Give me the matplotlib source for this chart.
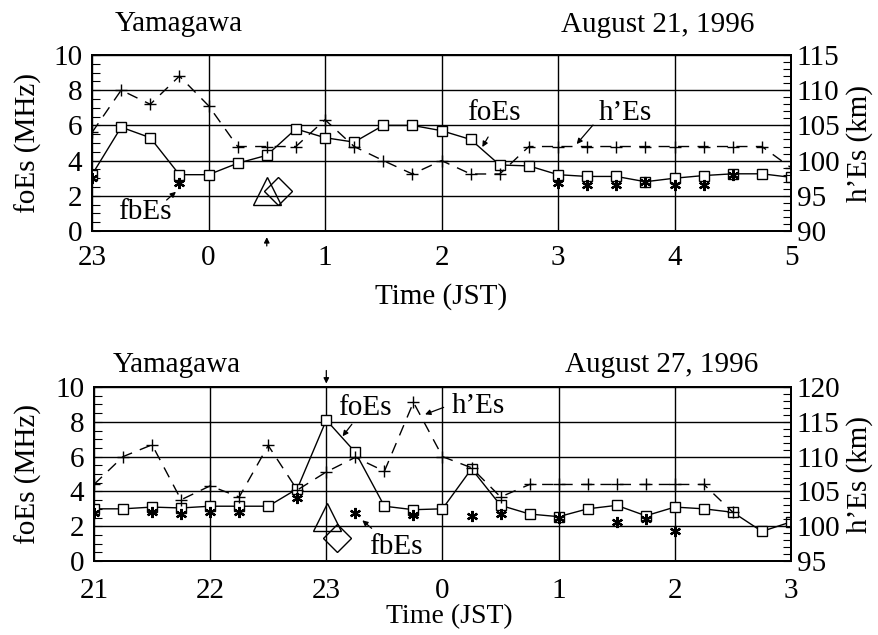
import matplotlib
matplotlib.use("Agg")
import matplotlib.pyplot as plt
from matplotlib.ticker import MultipleLocator

plt.rcParams['font.family'] = ['Liberation Serif', 'DejaVu Serif']
plt.rcParams['font.size'] = 21

# ---- August 21, 1996 (hours after 23 JST) ----
top_t = [0, 0.25, 0.5, 0.75, 1, 1.25, 1.5, 1.75, 2, 2.25, 2.5, 2.75, 3,
         3.25, 3.5, 3.75, 4, 4.25, 4.5, 4.75, 5, 5.25, 5.5, 5.75, 6]
top_foes = [3.2, 5.9, 5.3, 3.2, 3.2, 3.85, 4.3, 5.8, 5.3, 5.05, 6.0, 6.0, 5.7,
            5.2, 3.75, 3.7, 3.2, 3.1, 3.1, 2.8, 3.0, 3.15, 3.25, 3.25, 3.05]
top_hes = [104, 110, 108, 112, 107.8, 102, 102, 102, 105.8, 102, 100, 98.1, 100,
           98.1, 98.1, 102, 102, 102, 102, 102, 102, 102, 102, 102, 99]
top_fb_t = [0, 0.75, 4, 4.25, 4.5, 4.75, 5, 5.25, 5.5]
top_fbes = [3.0, 2.7, 2.7, 2.6, 2.6, 2.8, 2.6, 2.6, 3.2]
top_xlabels = ['23', '0', '1', '2', '3', '4', '5']
top_tri = (1.50, 2.3)
top_dia = (1.60, 2.3)
top_event = 1.5

# ---- August 27, 1996 (hours after 21 JST) ----
bot_t = top_t
bot_foes = [3.0, 3.0, 3.1, 3.05, 3.15, 3.15, 3.15, 4.15, 8.1, 6.25, 3.15, 2.95, 3.0,
            5.3, 3.2, 2.7, 2.55, 3.0, 3.2, 2.6, 3.1, 3.0, 2.8, 1.7, 2.25]
bot_hes_t = top_t[:23]
bot_hes = [106, 110, 111.7, 103.8, 105.8, 104.2, 111.6, 105.2, 107.8, 109.9, 107.9,
           117.8, 110, 108.4, 104.2, 106, 106, 106, 106, 106, 106, 106, 102]
bot_fb_t = [0, 0.5, 0.75, 1, 1.25, 1.75, 2.25, 2.75, 3.25, 3.5, 4, 4.5, 4.75, 5]
bot_fbes = [2.75, 2.8, 2.7, 2.8, 2.8, 3.65, 2.75, 2.65, 2.6, 2.7, 2.5, 2.25, 2.4, 1.75]
bot_xlabels = ['21', '22', '23', '0', '1', '2', '3']
bot_tri = (2.01, 2.55)
bot_dia = (2.09, 1.3)
bot_event = 2.0

fig = plt.figure(figsize=(8.79, 6.35), dpi=100)
ax_top = fig.add_axes([0.1047, 0.6362, 0.7952, 0.2772])
ax_bot = fig.add_axes([0.1069, 0.1165, 0.793, 0.274])


def panel(ax, t, foes, hes_t, hes, fb_t, fbes, xlabels, hlim, tri, dia, xpad):
    ax.set_xlim(0, 6)
    ax.set_ylim(0, 10)
    ax.set_xticks(range(7))
    ax.set_xticklabels(xlabels)
    ax.set_yticks(range(0, 11, 2))
    ax.yaxis.set_minor_locator(MultipleLocator(0.5))
    ax.tick_params(axis='x', length=0, pad=xpad)
    ax.tick_params(axis='y', which='both', direction='in', length=6, width=0.8, pad=7)
    ax.grid(True, color='black', lw=1.0)
    for s in ax.spines.values():
        s.set_linewidth(1.4)

    ax.plot(t, foes, color='black', lw=1.0, marker='s', ms=7, mfc='white',
            mec='black', mew=1.0, zorder=4)
    ax.plot(fb_t, fbes, ls='none', marker=(6, 2, 0), ms=8, mec='black',
            mew=1.6, zorder=5)
    ax.plot(*tri, marker='^', ms=20, mfc='none', mec='black', mew=1.0,
            ls='none', zorder=5)
    ax.plot(*dia, marker='D', ms=14, mfc='none', mec='black', mew=1.0,
            ls='none', zorder=5)

    ax2 = ax.twinx()
    ax2.set_ylim(*hlim)
    ax2.set_yticks(range(hlim[0], hlim[1] + 1, 5))
    ax2.yaxis.set_minor_locator(MultipleLocator(1))
    ax2.tick_params(axis='y', which='both', direction='in', length=6, width=0.8, pad=4)
    ln, = ax2.plot(hes_t, hes, color='black', lw=1.0, marker='+', ms=9, mew=1.0,
                   zorder=4)
    ln.set_dashes((8, 6))
    for s in ax2.spines.values():
        s.set_linewidth(1.4)

    ax.set_ylabel('foEs (MHz)')
    ax2.set_ylabel('h\u2019Es (km)')
    return ax2


ax2_top = panel(ax_top, top_t, top_foes, top_t, top_hes, top_fb_t, top_fbes,
                top_xlabels, (90, 115), top_tri, top_dia, 10)
ax2_bot = panel(ax_bot, bot_t, bot_foes, bot_hes_t, bot_hes, bot_fb_t, bot_fbes,
                bot_xlabels, (95, 120), bot_tri, bot_dia, 12)
ax_top.set_xlabel('Time (JST)')
ax_bot.set_xlabel('Time (JST)', fontsize=20)

# label positions
ax_top.yaxis.set_label_coords(-0.072, 0.5)
ax2_top.yaxis.set_label_coords(1.079, 0.5)
ax_top.xaxis.set_label_coords(0.5, -0.295)
ax_bot.yaxis.set_label_coords(-0.075, 0.5)
ax2_bot.yaxis.set_label_coords(1.079, 0.5)
ax_bot.xaxis.set_label_coords(0.51, -0.245)

ax_top.text(0.033, 1.136, 'Yamagawa', transform=ax_top.transAxes, ha='left', va='baseline')
ax_top.text(0.948, 1.13, 'August 21, 1996', transform=ax_top.transAxes, ha='right', va='baseline')
ax_bot.text(0.027, 1.084, 'Yamagawa', transform=ax_bot.transAxes, ha='left', va='baseline')
ax_bot.text(0.953, 1.084, 'August 27, 1996', transform=ax_bot.transAxes, ha='right', va='baseline')

arrow = dict(arrowstyle='-|>', lw=0.9, color='black', mutation_scale=8,
             shrinkA=0, shrinkB=0)

# top annotations
ax_top.text(0.45, 1.08, 'fbEs', ha='center', va='center', zorder=6)
ax_top.annotate('', xy=(0.72, 2.23), xytext=(0.64, 1.76), arrowprops=arrow)
ax_top.text(3.45, 6.7, 'foEs', ha='center', va='center', zorder=6)
ax_top.annotate('', xy=(3.35, 4.77), xytext=(3.40, 5.34), arrowprops=arrow)
ax_top.text(4.575, 6.7, 'h\u2019Es', ha='center', va='center', zorder=6)
ax_top.annotate('', xy=(4.16, 4.94), xytext=(4.30, 6.02), arrowprops=arrow)
ax_top.annotate('', xy=(top_event, -0.35), xytext=(top_event, -0.85),
                arrowprops=arrow, annotation_clip=False)

# bottom annotations
ax_bot.text(2.33, 8.77, 'foEs', ha='center', va='center', zorder=6)
ax_bot.annotate('', xy=(2.14, 7.17), xytext=(2.22, 7.86), arrowprops=arrow)
ax_bot.text(3.31, 8.89, 'h\u2019Es', ha='center', va='center', zorder=6)
ax_bot.annotate('', xy=(2.85, 8.43), xytext=(3.01, 8.83), arrowprops=arrow)
ax_bot.text(2.60, 0.79, 'fbEs', ha='center', va='center', zorder=6)
ax_bot.annotate('', xy=(2.31, 2.34), xytext=(2.39, 1.88), arrowprops=arrow)
ax_bot.annotate('', xy=(bot_event, 10.2), xytext=(bot_event, 10.95),
                arrowprops=arrow, annotation_clip=False)

fig.savefig('out.png', dpi=100)
